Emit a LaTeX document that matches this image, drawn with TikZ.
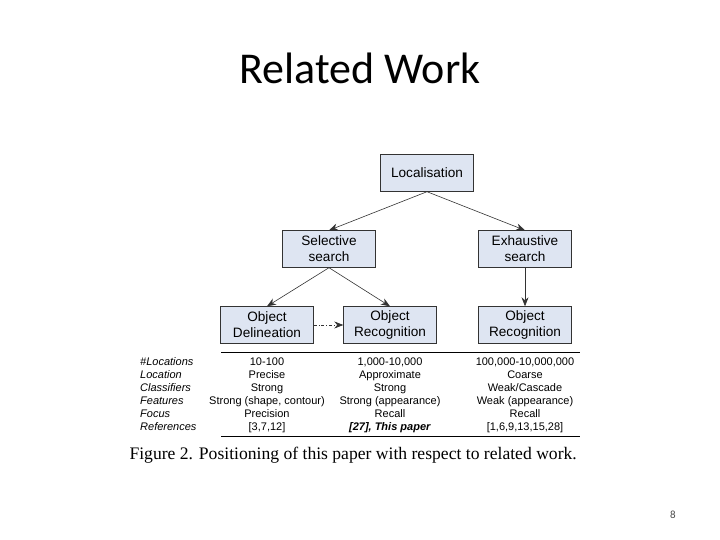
\documentclass[tikz,border=0pt]{standalone}
\usepackage{fontspec}
\setmainfont{Liberation Sans}
\newfontfamily\titlefont{Carlito}
\newfontfamily\capfont{Liberation Serif}
\usetikzlibrary{arrows.meta}
\definecolor{boxfill}{RGB}{222,229,242}

\begin{document}
\begin{tikzpicture}[x=1pt,y=-1pt,
    catbox/.style={draw=black!80, fill=boxfill, minimum width=93pt, minimum height=37pt,
        align=center, font=\fontsize{13.6}{16}\selectfont, inner sep=1pt},
    link/.style={-{Stealth[length=9pt,width=7pt]}, black!80, line width=0.6pt},
    rowtxt/.style={font=\fontsize{11}{12}\selectfont, inner sep=0pt, text height=8pt, text depth=2pt}]
    \useasboundingbox (0,0) rectangle (720,540);

    \node [font=\titlefont\fontsize{44}{48}\selectfont] (title) at (360,68) {Related Work};

    \node [catbox] (loc) at (427,173) {Localisation};
    \node [catbox] (sel) at (329,249) {Selective\\search};
    \node [catbox] (exh) at (525,249) {Exhaustive\\search};
    \node [catbox] (del) at (267,325) {Object\\Delineation};
    \node [catbox] (rec) at (390,325) {Object\\Recognition};
    \node [catbox] (rex) at (525,325) {Object\\Recognition};

    \draw [link] (loc.south) -- (sel.north);
    \draw [link] (loc.south) -- (exh.north);
    \draw [link] (sel.south) -- (del.north);
    \draw [link] (sel.south) -- (rec.north);
    \draw [link] (exh.south) -- (rex.north);
    \draw [link, dash dot] (del.east) -- (rec.west);

    % table
    \coordinate (ruleA) at (221,352);
    \coordinate (ruleB) at (580,352);
    \coordinate (ruleC) at (221,436);
    \coordinate (ruleD) at (580,436);
    \draw [line width=0.7pt] (ruleA) -- (ruleB);
    \draw [line width=0.7pt] (ruleC) -- (ruleD);

    \foreach \lab/\a/\b/\c [count=\i] in {
        \#Locations/10-100/{1,000-10,000}/{100,000-10,000,000},
        Location/Precise/Approximate/Coarse,
        Classifiers/Strong/Strong/Weak\slash Cascade,
        Features/{Strong (shape, contour)}/{Strong (appearance)}/{Weak (appearance)},
        Focus/Precision/Recall/Recall,
        References/{[3,7,12]}/{\textbf{\textit{[27], This paper}}}/{[1,6,9,13,15,28]}} {
        \node [rowtxt, anchor=west, font=\itshape\fontsize{11}{12}\selectfont] (lab\i) at (140,349+13*\i) {\lab};
        \node [rowtxt] (ca\i) at (267,349+13*\i) {\a};
        \node [rowtxt] (cb\i) at (390,349+13*\i) {\b};
        \node [rowtxt] (cc\i) at (525,349+13*\i) {\c};
    }

    \node [font=\capfont\fontsize{17.6}{20}\selectfont, anchor=west] (caption) at (126,455)
        {Figure 2. Positioning of this paper with respect to related work.};

    \node [font=\titlefont\fontsize{11}{12}\selectfont, text=black!70] (page) at (673,515) {8};
\end{tikzpicture}
\end{document}
